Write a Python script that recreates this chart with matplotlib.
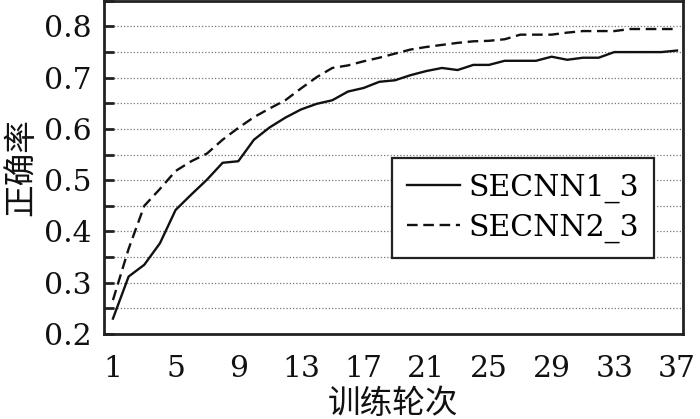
import numpy as np
import matplotlib
matplotlib.use('Agg')
from matplotlib import pyplot as plt
from matplotlib.ticker import MultipleLocator

# 训练轮次 1..37
epochs = np.arange(1, 38)

secnn1_3 = [0.230, 0.312, 0.335, 0.377, 0.442, 0.472, 0.501, 0.534, 0.537, 0.579,
            0.603, 0.622, 0.638, 0.649, 0.656, 0.673, 0.680, 0.692, 0.695, 0.705,
            0.713, 0.719, 0.715, 0.725, 0.725, 0.733, 0.733, 0.733, 0.741, 0.735,
            0.739, 0.739, 0.750, 0.750, 0.750, 0.750, 0.753]

secnn2_3 = [0.266, 0.366, 0.450, 0.483, 0.518, 0.537, 0.552, 0.579, 0.602, 0.623,
            0.640, 0.656, 0.679, 0.701, 0.719, 0.724, 0.732, 0.739, 0.747, 0.755,
            0.760, 0.764, 0.768, 0.771, 0.772, 0.775, 0.784, 0.784, 0.784, 0.788,
            0.791, 0.791, 0.791, 0.795, 0.795, 0.795, 0.795]

xticks = [1, 5, 9, 13, 17, 21, 25, 29, 33, 37]

serif = 'DejaVu Serif'
cjk = ['Noto Sans CJK SC', 'DejaVu Sans']
fs = 21.5

fig = plt.figure(figsize=(7, 4.19), dpi=100)
ax = fig.add_axes([0.1486, 0.203, 0.827, 0.795])

ax.plot(epochs, secnn1_3, color='#111111', lw=1.7, label='SECNN1_3')
ax.plot(epochs, secnn2_3, color='#111111', lw=1.7, dashes=(4.5, 2.4), label='SECNN2_3')

ax.set_xlim(0.43, 37.38)
ax.set_ylim(0.2, 0.85)
ax.set_xticks(xticks)
ax.yaxis.set_major_locator(MultipleLocator(0.1))
ax.yaxis.set_minor_locator(MultipleLocator(0.05))
ax.yaxis.set_major_formatter(plt.FuncFormatter(lambda v, p: '%.1f' % v if v < 0.84 else ''))

ax.grid(axis='y', which='both', linestyle=(0, (1, 1.6)), color='#777777', lw=0.9)
ax.set_axisbelow(True)

ax.tick_params(axis='y', which='both', direction='in', length=7, width=2,
               color='#222222', pad=9, labelsize=fs)
ax.tick_params(axis='x', which='both', length=0, pad=15, labelsize=fs)
for lab in ax.get_xticklabels() + ax.get_yticklabels():
    lab.set_family(serif)
    lab.set_color('#111111')

for sp in ax.spines.values():
    sp.set_linewidth(2)
    sp.set_color('#222222')

ax.set_xlabel('训练轮次', family=cjk, fontsize=23.5, labelpad=4, color='#111111')
ax.set_ylabel('正确率', family=cjk, fontsize=23.5, labelpad=5, color='#111111')

leg = ax.legend(loc='upper left', bbox_to_anchor=(0.497, 0.527),
                prop={'family': serif, 'size': fs}, frameon=True, fancybox=False,
                handlelength=1.8, handletextpad=0.28, borderpad=0.5,
                labelspacing=0.36, borderaxespad=0)
leg.get_frame().set_edgecolor('#222222')
leg.get_frame().set_linewidth(1.6)
leg.get_frame().set_facecolor('white')
leg.get_frame().set_alpha(1)

fig.savefig('out.png', dpi=100)
